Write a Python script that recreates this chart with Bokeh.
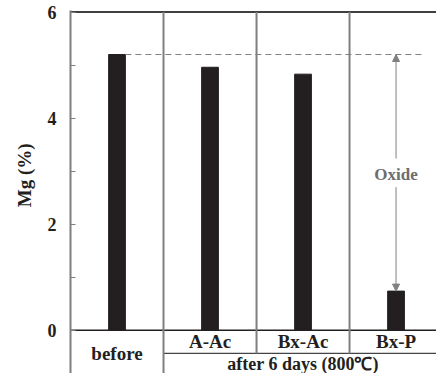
from bokeh.plotting import figure
from bokeh.models import Range1d, FixedTicker, Arrow, NormalHead
from bokeh.core.properties import value
from bokeh.embed import file_html
from bokeh.resources import INLINE

# ---- data ----
categories = ["before", "A-Ac", "Bx-Ac", "Bx-P"]
mg_values = [5.2, 4.96, 4.83, 0.74]
group_label = "after 6 days (800\u2103)"
y_ticks = [0, 2, 4, 6]
y_minor = [1, 3, 5]
y_title = "Mg (%)"
oxide_label = "Oxide"

FONT = "Liberation Serif"
BAR_W = 0.18

p = figure(width=436, height=373, output_backend="svg", toolbar_location=None,
           x_range=Range1d(0, 3.935), y_range=Range1d(-0.813, 6.03),
           min_border_left=70, min_border_right=0, min_border_top=10, min_border_bottom=0)
p.outline_line_color = None
p.grid.visible = False
p.xaxis.visible = False
p.background_fill_color = "white"

ya = p.yaxis[0]
ya.ticker = FixedTicker(ticks=y_ticks, minor_ticks=y_minor)
ya.axis_line_color = "#7f7f7f"
ya.axis_line_width = 2
ya.major_tick_line_color = "#7f7f7f"
ya.minor_tick_line_color = "#7f7f7f"
ya.major_tick_in = 5
ya.major_tick_out = 0
ya.minor_tick_in = 5
ya.minor_tick_out = 0
ya.major_label_standoff = 14
ya.major_label_text_font = FONT
ya.major_label_text_font_style = "bold"
ya.major_label_text_font_size = "18px"
ya.major_label_text_color = "#231f20"
# non-breaking spaces shift the title up so it centres on the 0-6 span
ya.axis_label = "\u00a0" * 7 + y_title
ya.axis_label_text_font = FONT
ya.axis_label_text_font_style = "bold"
ya.axis_label_text_font_size = "19px"
ya.axis_label_text_color = "#231f20"
ya.axis_label_standoff = 10

n = len(categories)
xc = [i + 0.5 for i in range(n)]

# bars
p.vbar(x=xc, top=mg_values, width=BAR_W, fill_color="#231f20", line_color="#231f20")

# frame lines
x_end = p.x_range.end
p.segment(x0=[0], y0=[6], x1=[x_end], y1=[6], line_color="black", line_width=1.5)
p.segment(x0=[0], y0=[0], x1=[x_end], y1=[0], line_color="#231f20", line_width=1.5)
row_y = -0.434
p.segment(x0=[1], y0=[row_y], x1=[x_end], y1=[row_y], line_color="#444444", line_width=1.2)
# vertical separators
p.segment(x0=[1], y0=[6], x1=[1], y1=[p.y_range.start], line_color="#7f7f7f", line_width=2)
p.segment(x0=list(range(2, n)), y0=[6] * (n - 2), x1=list(range(2, n)), y1=[row_y] * (n - 2),
          line_color="#7f7f7f", line_width=2)

# dashed reference line at initial value
p.segment(x0=[xc[0] + BAR_W / 2], y0=[mg_values[0]], x1=[3.81], y1=[mg_values[0]],
          line_color="#808080", line_width=1, line_dash="6 4")

# category labels
p.text(x=[xc[0]], y=[row_y], text=[categories[0]], text_align="center", text_baseline="middle",
       text_font=value(FONT), text_font_style="bold", text_font_size="19px", text_color="#231f20")
p.text(x=xc[1:], y=[-0.207] * (n - 1), text=categories[1:], text_align="center",
       text_baseline="middle", text_font=value(FONT), text_font_style="bold",
       text_font_size="19px", text_color="#231f20")
p.text(x=[(1 + n) / 2], y=[-0.64], text=[group_label], text_align="center", text_baseline="middle",
       text_font=value(FONT), text_font_style="bold", text_font_size="18px", text_color="#231f20")

# oxide arrow
ax = xc[3]
p.add_layout(Arrow(end=NormalHead(size=7, fill_color="#808080", line_color="#808080"),
                   x_start=ax, y_start=3.24, x_end=ax, y_end=mg_values[0],
                   line_color="#808080", line_width=1))
p.add_layout(Arrow(end=NormalHead(size=7, fill_color="#808080", line_color="#808080"),
                   x_start=ax, y_start=2.70, x_end=ax, y_end=mg_values[3],
                   line_color="#808080", line_width=1))
p.text(x=[ax], y=[2.94], text=[oxide_label], text_align="center", text_baseline="middle",
       text_font=value(FONT), text_font_style="bold", text_font_size="17px", text_color="#6d6d6d")

open("out.html", "w").write(file_html(p, INLINE))
